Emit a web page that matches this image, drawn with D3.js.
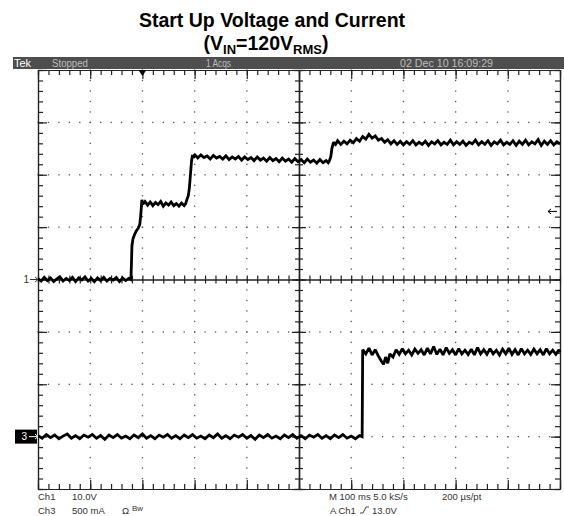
<!DOCTYPE html>
<html>
<head>
<meta charset="utf-8">
<script src="https://cdn.jsdelivr.net/npm/d3@7"></script>
<style>
  body { margin: 0; background: #fff; }
  svg { display: block; font-family: "Liberation Sans", Arial, sans-serif; }
</style>
</head>
<body>
<div id="root"></div>
<script>
// scope capture: Ch1 = bus voltage (V), Ch3 = input current (mA), time in ms
var ch1Trace = [
  [0,0.2],[6,-0.3],[12,0.4],[18,-0.2],[24,0.3],[30,-0.4],[36,0.1],[42,0.5],[48,-0.3],[54,0.2],
  [60,-0.2],[66,0.4],[72,-0.4],[78,0.3],[84,-0.1],[90,0.5],[96,-0.3],[102,0.2],[108,-0.4],[114,0.3],
  [120,-0.2],[126,0.4],[132,-0.3],[138,0.2],[144,-0.1],[150,0.4],[156,-0.4],[162,0.3],[168,-0.2],[174,0.2],
  [178,0.0],[179,3.0],[180,6.5],[182,7.8],[185,8.6],[188,9.2],[192,9.8],[195,10.5],[197,12.5],[199,15.2],
  [201,14.4],[205,14.9],[210,14.2],[215,14.8],[220,14.1],[225,14.7],[230,14.3],[235,14.9],[240,14.0],[245,14.6],
  [250,14.2],[255,14.8],[260,14.1],[265,14.5],[270,14.0],[275,14.6],[280,14.1],[283,14.5],[285,15.2],[288,16.0],
  [290,17.5],[292,20.0],[294,22.5],[296,23.8],[298,23.2],
  [300,23.9],[306,23.2],[312,23.8],[318,23.3],[324,23.6],[330,23.0],[336,23.7],[342,23.2],[348,23.5],[354,23.0],
  [360,23.6],[366,22.9],[372,23.4],[378,23.0],[384,23.5],[390,22.8],[396,23.4],[402,22.9],[408,23.3],[414,22.7],
  [420,23.4],[426,22.8],[432,23.2],[438,22.6],[444,23.3],[450,22.7],[456,23.1],[462,22.5],[468,23.2],[474,22.6],
  [480,23.0],[486,22.4],[492,23.1],[498,22.5],[504,22.9],[510,22.3],[516,23.0],[522,22.4],[528,22.8],[534,22.2],
  [540,22.9],[546,22.3],[552,22.7],[556,22.3],[558,22.6],[561,23.5],[563,25.0],[566,26.2],[570,25.8],
  [574,26.5],[580,25.8],[586,26.4],[592,25.9],[598,26.6],[604,26.1],[610,26.9],[616,26.4],[622,27.3],[628,26.8],
  [634,27.7],[640,27.0],[646,27.4],[652,26.6],[658,26.9],[664,26.2],[670,26.7],[676,25.9],[682,26.5],[688,25.8],
  [694,26.4],[700,25.7],[706,26.3],[712,25.8],[718,26.5],[724,25.7],[730,26.2],[736,25.8],[742,26.4],[748,25.6],
  [754,26.3],[760,25.9],[766,26.5],[772,25.7],[778,26.2],[784,25.8],[790,26.6],[796,25.7],[802,26.3],[808,25.8],
  [814,26.4],[820,25.6],[826,26.2],[832,25.9],[838,26.6],[844,25.7],[850,26.3],[856,25.8],[862,26.5],[868,25.6],
  [874,26.3],[880,25.9],[886,26.6],[892,25.7],[898,26.2],[904,25.8],[910,26.5],[916,25.6],[922,26.4],[928,25.8],
  [934,26.6],[940,25.7],[946,26.3],[952,25.9],[958,26.7],[964,25.6],[970,26.4],[976,25.8],[982,26.5],[988,25.7],
  [994,26.3],[1000,25.9]
];

var ch3Trace = [
  [0,10],[8,-15],[16,20],[24,-10],[32,15],[40,-20],[48,5],[56,25],[64,-15],[72,10],
  [80,-20],[88,15],[96,-5],[104,20],[112,-15],[120,10],[128,-25],[136,15],[144,-10],[152,20],
  [160,-15],[168,5],[176,-20],[184,15],[192,-10],[200,25],[208,-15],[216,10],[224,-20],[232,15],
  [240,-5],[248,20],[256,-15],[264,10],[272,-20],[280,15],[288,-10],[296,20],[304,-15],[312,5],
  [320,-20],[328,15],[336,-10],[344,25],[352,-15],[360,10],[368,-20],[376,15],[384,-5],[392,20],
  [400,-15],[408,10],[416,-25],[424,15],[432,-10],[440,20],[448,-15],[456,5],[464,-20],[472,15],
  [480,-10],[488,20],[496,-15],[504,10],[512,-20],[520,15],[528,-5],[536,20],[544,-15],[552,10],
  [560,-20],[568,15],[576,-10],[584,20],[592,-15],[600,5],[608,-20],[616,10],[621,0],[622,830],
  [628,790],[634,845],[640,780],[646,830],[652,770],[658,720],[662,690],[666,760],[670,700],[674,790],
  [680,760],[686,830],[692,785],[698,840],[704,790],[710,825],[716,780],[722,835],[728,795],[734,830],
  [740,780],[746,845],[752,790],[758,860],[764,785],[770,835],[776,780],[782,850],[788,795],[794,830],
  [800,780],[806,840],[812,790],[818,825],[824,785],[830,835],[836,780],[842,850],[848,790],[854,830],
  [860,785],[866,840],[872,790],[878,825],[884,780],[890,835],[896,790],[902,845],[908,785],[914,830],
  [920,780],[926,840],[932,790],[938,825],[944,785],[950,835],[956,790],[962,830],[968,780],[974,840],
  [980,790],[986,825],[992,785],[998,830],[1000,805]
];

var headerTexts = ["Tek", "Stopped", "1 Acqs", "02 Dec 10 16:09:29"];
var chLabels = ["Ch1", "Ch3"];
var chScales = ["10.0V", "500 mA"];
var trigLevel = 13.0;   // V, Ch1 rising
var trigTime = 200;     // ms

var width = 564, height = 516;
var plot = { left: 38, right: 560, top: 70, bottom: 489 };

var svg = d3.select("#root").append("svg")
  .attr("width", width).attr("height", height);

// title
svg.append("text")
  .attr("x", 272).attr("y", 27)
  .attr("text-anchor", "middle")
  .attr("font-size", "19.5px").attr("font-weight", "bold")
  .text("Start Up Voltage and Current");

var sub = svg.append("text")
  .attr("x", 266).attr("y", 50)
  .attr("text-anchor", "middle")
  .attr("font-size", "19.5px").attr("font-weight", "bold");
sub.append("tspan").text("(V");
sub.append("tspan").attr("font-size", "13px").attr("dy", 4).text("IN");
sub.append("tspan").attr("dy", -4).text("=120V");
sub.append("tspan").attr("font-size", "13px").attr("dy", 4).text("RMS");
sub.append("tspan").attr("dy", -4).text(")");

// scales: 10 x 8 divisions
var xDiv = d3.scaleLinear().domain([0, 10]).range([plot.left, plot.right]);
var yDiv = d3.scaleLinear().domain([0, 8]).range([plot.top, plot.bottom]);
var x = d3.scaleLinear().domain([0, 1000]).range([plot.left, plot.right]);
var yV = d3.scaleLinear().domain([-40, 40]).range([plot.bottom, plot.top]);
var yI = d3.scaleLinear().domain([-500, 3500]).range([plot.bottom, plot.top]);

// header bar
svg.append("rect")
  .attr("x", 13).attr("y", 57).attr("width", 551).attr("height", 12)
  .attr("fill", "#4e4e4e");
var hx = [14, 52, 206, 400];
var hw = [17, 36, 25, 93];
svg.selectAll(".hdr").data(headerTexts).enter().append("text")
  .attr("class", "hdr")
  .attr("x", (d, i) => hx[i]).attr("y", 66.5)
  .attr("font-size", "10.5px")
  .attr("textLength", (d, i) => hw[i])
  .attr("lengthAdjust", "spacingAndGlyphs")
  .attr("fill", (d, i) => i == 0 ? "#ffffff" : "#bdbdbd")
  .text(d => d);

// graticule dots
var minorX = d3.range(0, 10.01, 0.2);
var minorY = d3.range(0, 8.01, 0.2);
var dots = [];
[1, 2, 3, 4, 6, 7, 8, 9].forEach(function(i) {
  minorY.forEach(function(j) { dots.push([i, j]); });
});
[1, 2, 3, 5, 6, 7].forEach(function(j) {
  minorX.forEach(function(i) { dots.push([i, j]); });
});
svg.append("g").selectAll("rect").data(dots).enter().append("rect")
  .attr("x", d => xDiv(d[0]) - 0.6).attr("y", d => yDiv(d[1]) - 0.6)
  .attr("width", 1.3).attr("height", 1.3)
  .attr("fill", "#555");

// border + ticks
function ticks(axis, vals, size) {
  return axis.tickValues(vals).tickSize(size).tickSizeOuter(0).tickFormat("");
}
var majX = d3.range(0, 11), majY = d3.range(0, 9);
var frame = svg.append("g").attr("class", "frame");
frame.append("g").attr("transform", `translate(0,${plot.top})`).call(ticks(d3.axisBottom(xDiv), minorX, 5));
frame.append("g").attr("transform", `translate(0,${plot.top})`).call(ticks(d3.axisBottom(xDiv), majX, 9));
frame.append("g").attr("transform", `translate(0,${plot.bottom})`).call(ticks(d3.axisTop(xDiv), minorX, 5));
frame.append("g").attr("transform", `translate(0,${plot.bottom})`).call(ticks(d3.axisTop(xDiv), majX, 9));
frame.append("g").attr("transform", `translate(${plot.left},0)`).call(ticks(d3.axisRight(yDiv), minorY, 5));
frame.append("g").attr("transform", `translate(${plot.left},0)`).call(ticks(d3.axisRight(yDiv), majY, 9));
frame.append("g").attr("transform", `translate(${plot.right},0)`).call(ticks(d3.axisLeft(yDiv), minorY, 5));
frame.append("g").attr("transform", `translate(${plot.right},0)`).call(ticks(d3.axisLeft(yDiv), majY, 9));
// centre cross
frame.append("g").attr("transform", `translate(0,${yDiv(4)})`).call(ticks(d3.axisBottom(xDiv), minorX, 4));
frame.append("g").attr("transform", `translate(0,${yDiv(4)})`).call(ticks(d3.axisTop(xDiv), minorX, 4));
frame.append("g").attr("transform", `translate(${xDiv(5)},0)`).call(ticks(d3.axisRight(yDiv), minorY, 4));
frame.append("g").attr("transform", `translate(${xDiv(5)},0)`).call(ticks(d3.axisLeft(yDiv), minorY, 4));
frame.append("g").attr("transform", `translate(${xDiv(5)},0)`).call(ticks(d3.axisRight(yDiv), majY, 7));
frame.append("g").attr("transform", `translate(${xDiv(5)},0)`).call(ticks(d3.axisLeft(yDiv), majY, 7));
frame.selectAll("path, line").attr("stroke", "#222").attr("stroke-width", 1.2);

// traces
var line1 = d3.line().x(d => x(d[0])).y(d => yV(d[1]));
var line3 = d3.line().x(d => x(d[0])).y(d => yI(d[1]));
svg.append("path").datum(ch1Trace).attr("d", line1)
  .attr("fill", "none").attr("stroke", "#000").attr("stroke-width", 2.8)
  .attr("stroke-linejoin", "miter").attr("stroke-miterlimit", 2);
svg.append("path").datum(ch3Trace).attr("d", line3)
  .attr("fill", "none").attr("stroke", "#000").attr("stroke-width", 2.8)
  .attr("stroke-linejoin", "miter").attr("stroke-miterlimit", 2);

// trigger position marker
var tx = x(trigTime);
svg.append("path")
  .attr("d", `M${tx - 4},${plot.top} L${tx + 4},${plot.top} L${tx},${plot.top + 6} Z`)
  .attr("fill", "#000");

// trigger level arrow (right)
var ty = yV(trigLevel);
svg.append("path")
  .attr("d", `M${plot.right - 3},${ty} L${plot.right - 12},${ty} M${plot.right - 12},${ty} l3,-2.5 M${plot.right - 12},${ty} l3,2.5`)
  .attr("stroke", "#000").attr("stroke-width", 1).attr("fill", "none");

// channel ground markers
var g1 = yV(0);
svg.append("text").attr("x", 29).attr("y", g1 + 3.5)
  .attr("text-anchor", "end").attr("font-size", "10px").attr("fill", "#333").text("1");
svg.append("path")
  .attr("d", `M30,${g1} L${plot.left},${g1} M${plot.left},${g1} l-3,-2.5 M${plot.left},${g1} l-3,2.5`)
  .attr("stroke", "#333").attr("stroke-width", 1).attr("fill", "none");
var g3 = yI(0);
svg.append("rect").attr("x", 15).attr("y", g3 - 7).attr("width", 22).attr("height", 14).attr("fill", "#000");
svg.append("text").attr("x", 27).attr("y", g3 + 3.5)
  .attr("text-anchor", "end").attr("font-size", "10px").attr("fill", "#fff").text("3");
svg.append("path")
  .attr("d", `M29,${g3} L${plot.left},${g3} M${plot.left},${g3} l-3,-2.5 M${plot.left},${g3} l-3,2.5`)
  .attr("stroke", "#fff").attr("stroke-width", 1).attr("fill", "none");

// status readout
var info = svg.append("g").attr("font-size", "9.5px").attr("fill", "#333");
info.selectAll(".chl").data(chLabels).enter().append("text")
  .attr("x", 38).attr("y", (d, i) => 500 + i * 14).text(d => d);
info.selectAll(".chs").data(chScales).enter().append("text")
  .attr("x", 72).attr("y", (d, i) => 500 + i * 14).text(d => d);
info.append("text").attr("x", 122).attr("y", 514).text("\u03A9");
info.append("text").attr("x", 132).attr("y", 511).attr("font-size", "8px").text("Bw");
info.append("text").attr("x", 329).attr("y", 500).text("M 100 ms 5.0 kS/s");
info.append("text").attr("x", 442).attr("y", 500).text("200 \u00B5s/pt");
info.append("text").attr("x", 330).attr("y", 514).text("A  Ch1");
info.append("path").attr("d", "M360,513 L363,513 L366,507 L369,507")
  .attr("stroke", "#333").attr("fill", "none").attr("stroke-width", 0.9);
info.append("text").attr("x", 372).attr("y", 514).text(trigLevel.toFixed(1) + "V");
</script>
</body>
</html>
